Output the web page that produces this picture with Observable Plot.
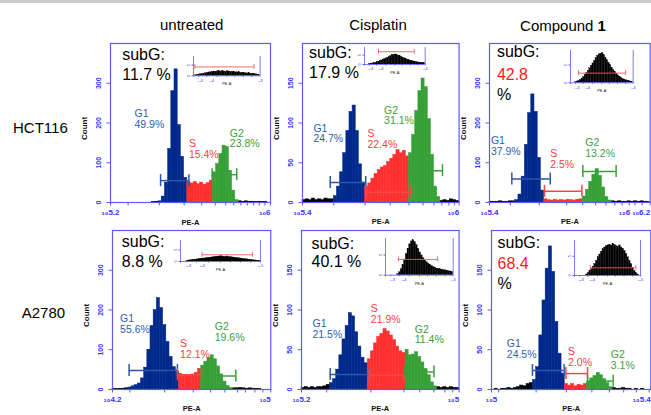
<!DOCTYPE html>
<html><head><meta charset="utf-8">
<script src="https://cdn.jsdelivr.net/npm/d3@7"></script>
<script src="https://cdn.jsdelivr.net/npm/@observablehq/plot@0.6"></script>
<style>
html,body{margin:0;padding:0;background:#fff;}
#root{position:relative;width:651px;height:415px;overflow:hidden;background:#fff;font-family:"Liberation Sans",Arial,sans-serif;}
#root svg{display:block;max-width:none;}
.abs{position:absolute;}
.lbl{position:absolute;white-space:nowrap;color:#000;line-height:1;}
</style></head>
<body><div id="root"></div>
<script>
// ---------------- DATA ----------------
const columns = ["untreated", "Cisplatin", "Compound 1"];
const cellLines = ["HCT116", "A2780"];
const subG  = [11.7, 17.9, 42.8, 8.8, 40.1, 68.4];
const pctG1 = [49.9, 24.7, 37.9, 55.6, 21.5, 24.5];
const pctS  = [15.4, 22.4, 2.5, 12.1, 21.9, 2.0];
const pctG2 = [23.8, 31.1, 13.2, 19.6, 11.4, 3.1];
const yMax  = [400, 200, 400, 400, 200, 200];
const yTicks = [[0,100,200,300],[0,50,100,150],[0,100,200,300],[0,100,200,300],[0,50,100,150],[0,50,100,150]];
const xTicks = [
  [0,11,30.5,46,57,65.5,72,77,81.5,85.5,89.5,93,96.5,100],
  [0,20,40,56,68,77,84,89,93.5,97,100],
  [0,13,31,48,58,66,72.5,78,82.5,87,90.5,95,100],
  [0,11,33,51,62,71,79,84,90,95,100],
  [0,16,44,65,75,84,91,96,100],
  [0,4.5,28,47,63,74,83,91,99]
];
const xTickLabels = [
  [["₁₀5.2",0],["₁₀6",100]],
  [["₁₀5.4",0],["₁₀6",100]],
  [["₁₀5.4",0],["₁₀6",84],["₁₀6.2",100]],
  [["₁₀4.2",0],["₁₀5",100]],
  [["₁₀5.2",0],["₁₀5",100]],
  [["₁₀5",0],["₁₀5.4",100]]
];
// histogram counts, 50 channels each (PE-A, 2 channel units per bin)
const histHCT116Untreated = [0,0,0,0,0,0,0,0,0,0, 0,0,0,1,2,3,15,50,135,280, 335,195,115,62,52,48,52,46,50,45, 49,55,76,97,122,143,140,80,30,6, 3,2,3,2,2,1,2,1,1,0];
const histHCT116Cisplatin = [3,4,3,5,3,4,3,5,4,4, 8,20,38,62,90,114,122,90,48,25, 20,24,30,36,41,44,46,51,55,60, 66,62,65,58,62,85,115,140,156,145, 105,60,20,7,2,3,2,4,3,2];
const histHCT116Compound  = [2,1,2,3,2,2,3,3,6,20, 65,145,225,272,228,112,30,8,6,5, 7,5,6,5,7,6,5,7,8,15, 32,52,70,84,67,38,14,5,3,2, 3,2,2,3,2,3,2,3,2,1];
const histA2780Untreated  = [1,1,2,2,3,5,8,11,15,28, 55,100,160,200,230,205,162,120,82,56, 45,40,37,35,36,38,42,52,60,70, 80,86,76,58,38,20,9,4,3,3, 4,3,2,3,2,2,1,0,0,0];
const histA2780Cisplatin  = [2,3,2,3,2,3,3,4,6,8, 13,25,43,63,80,96,92,72,54,40, 33,38,48,58,66,70,76,73,68,62, 54,48,46,50,43,44,47,41,34,26, 18,9,4,3,2,3,2,3,2,2];
const histA2780Compound   = [0,1,0,1,1,2,1,2,3,5, 4,7,8,12,28,68,112,152,180,148, 85,45,20,7,5,7,4,6,5,7, 10,14,17,21,18,13,8,3,2,1, 1,2,1,1,0,1,0,1,0,0];
const hists = [histHCT116Untreated, histHCT116Cisplatin, histHCT116Compound, histA2780Untreated, histA2780Cisplatin, histA2780Compound];
// phase edges (channel units): G1 start, S start, G2 start, G2 end
const phaseEdges = [[30,48,64,80],[20,40,68,88],[16,34,58,76],[10,42,56,76],[18,42,66,86],[26,46,60,76]];
// gates: [from, to, level(count)]
const gateG1 = [[31.3,49,55],[17.7,40.4,25],[13.9,37.8,59],[10.5,41,48],[18.2,42.9,19],[25.7,45.6,24]];
const gateS  = [null,[40.4,69.1,13],[34.2,57.5,28],[41,56.8,37],[42.9,65.1,18],[46.7,60.3,20]];
const gateG2 = [[63.5,78.9,70],[68,89.4,40],[58.1,78.8,78],[56.8,77.9,34],[65.1,84.1,22],[60.3,76.4,10.5]];
// insets: relative heights (% of inset height), 40 bins
const insetHCT116Untreated = [0,3,5,6,8,9,11,13,15,17,18,20,22,21,23,24,22,25,23,21,24,22,20,21,19,18,17,18,15,16,14,13,12,13,11,10,9,8,6,4];
const insetHCT116Cisplatin = [0,0,0,2,4,6,8,10,13,16,20,24,28,32,36,40,45,50,54,57,59,56,52,48,44,40,36,32,28,25,22,20,18,16,14,12,11,10,9,8];
const insetHCT116Compound  = [0,0,0,2,4,6,9,13,18,24,30,37,45,53,60,68,76,84,88,90,92,85,78,70,62,55,47,40,34,28,23,19,15,12,10,8,6,5,4,2];
const insetA2780Untreated  = [0,0,0,3,5,6,8,9,10,12,13,14,15,17,18,19,20,22,23,24,25,23,22,24,21,20,19,18,16,15,14,12,11,10,9,8,6,5,4,3];
const insetA2780Cisplatin  = [0,0,0,0,0,0,0,3,8,16,28,42,58,72,84,92,95,90,82,72,62,54,46,40,35,31,28,25,22,20,18,17,16,15,14,13,12,11,10,8];
const insetA2780Compound   = [0,0,0,0,0,0,0,3,7,12,18,25,33,42,52,60,68,75,80,84,86,88,85,90,87,84,82,86,80,76,70,62,52,42,32,22,13,7,3,0];
const insetHists = [insetHCT116Untreated, insetHCT116Cisplatin, insetHCT116Compound, insetA2780Untreated, insetA2780Cisplatin, insetA2780Compound];
const insetGates = [[2,91,46],[23,82,75],[13,88,30],[27,90,32],[19,77,43],[24,93,22]];
const insetXTicks = [0,8,20,35,50,62,75,88,100];
const insetXLabels = [["₁₀3",10],["₁₀4",27],["₁₀5",100]];
const insetYTicks = [[0,"0"],[55,"5"]];

// ---------------- LAYOUT ----------------
const layout = {
  frames: [[110,43,270,202],[301.7,43,458.3,202],[489.3,43,650,202],[111.7,230,270,389],[300.7,230,458.3,389],[490.7,230,650,389]],
  insets: [[192.7,56,259.3,75.3],[364.3,47.3,425,64.3],[570,50,632.7,82.3],[180,240,260,261],[385,238.3,452.7,275],[574,240,640,275]],
  labels: [
    [[15,210],[49,134],[74.6,161]],
    [[7,86.5],[41.5,79.6],[52.1,109]],
    [[0.9,142],[37.8,109],[59.6,137]],
    [[4.8,165],[42.7,102],[64.6,144]],
    [[7,76],[44,95],[71.9,69]],
    [[9.6,51],[48.1,41],[74.9,37]]
  ],
  subG: [[11.7,16.7,36],[6.6,15,35],[7.4,14,36.7,56.7],[9.3,17,37],[10,18.3,36.7],[6,17.3,38.3,58.3]],
  colTitles: [[191.7,30],[378,30],[563,30.7]],
  rowTitles: [[13,132.3],[21.7,317.3]]
};

const BW = 2;
const BAR = {k:"#000000", g1:"#00298c", s:"#ff3030", g2:"#36a036"};
const GATE = {g1:"#2b55a8", s:"#ff4545", g2:"#3aa03a"};
const LAB = {g1:"#2f5db0", s:"#ff4040", g2:"#3c9e3c"};
const AX = "#5a5aff";
const TICK = "#3535ff";
const FONT = "'Liberation Sans', Arial, sans-serif";
const root = document.getElementById("root");

function place(el, left, top) {
  const d = document.createElement("div");
  d.className = "abs";
  d.style.left = left + "px"; d.style.top = top + "px";
  d.appendChild(el); root.appendChild(d);
}

function makePanel(i) {
  const [L,T,R,B] = layout.frames[i];
  const W = R - L, H = B - T;
  const mL = 36, mR = 3, mT = 2, mB = 30;
  const e = phaseEdges[i];
  const bins = hists[i].map((v,j) => ({x1: j*BW, x2: (j+1)*BW, v}));
  const phase = b => b.x1 < e[0] ? "k" : b.x1 < e[1] ? "g1" : b.x1 < e[2] ? "s" : b.x1 < e[3] ? "g2" : "k";
  const capH = 6 * yMax[i] / H;
  const gates = [["g1",gateG1[i]],["s",gateS[i]],["g2",gateG2[i]]].filter(d => d[1])
    .map(([k,g]) => ({k, x1:g[0], x2:g[1], y:g[2]}));
  const caps = gates.flatMap(g => [{k:g.k, x:g.x1, y:g.y}, {k:g.k, x:g.x2, y:g.y}]);
  const lp = layout.labels[i];
  const labels = [
    {k:"g1", x:lp[0][0], y:lp[0][1], t:"G1\n" + pctG1[i].toFixed(1) + "%"},
    {k:"s",  x:lp[1][0], y:lp[1][1], t:"S\n"  + pctS[i].toFixed(1) + "%"},
    {k:"g2", x:lp[2][0], y:lp[2][1], t:"G2\n" + pctG2[i].toFixed(1) + "%"}
  ];
  const marks = [];
  for (const k of ["k","g1","s","g2"]) {
    marks.push(Plot.rect(bins.filter(b => phase(b) === k),
      {x1:"x1", x2:"x2", y1:0, y2:"v", fill:BAR[k], stroke:BAR[k], strokeWidth:0.5}));
  }
  marks.push(Plot.ruleY(gates, {x1:"x1", x2:"x2", y:"y", stroke:d => GATE[d.k], strokeWidth:1.5}));
  marks.push(Plot.ruleX(caps, {x:"x", y1:d => d.y - capH, y2:d => d.y + capH, stroke:d => GATE[d.k], strokeWidth:1.5}));
  marks.push(Plot.text(labels, {x:"x", y:"y", text:"t", fill:d => LAB[d.k], fontSize:10.5,
    textAnchor:"start", lineAnchor:"middle", lineHeight:1.0}));
  marks.push(Plot.frame({stroke:AX, strokeWidth:1.2}));
  marks.push(Plot.axisY(yTicks[i], {tickSize:3.5, tickFormat:() => "", label:null, stroke:AX}));
  marks.push(Plot.axisX(xTicks[i], {tickSize:3.5, tickFormat:() => "", label:null, stroke:AX}));
  marks.push(Plot.text(yTicks[i], {x:0, y:d => d, text:d => String(d), dx:-12, rotate:-90,
    fill:TICK, fontSize:7, fontWeight:"bold"}));
  const xl = xTickLabels[i];
  marks.push(Plot.text(xl.filter(d => d[1] < 99), {x:d => d[1], y:0, text:d => d[0], dy:10, fill:TICK, fontSize:8, fontWeight:"bold"}));
  marks.push(Plot.text(xl.filter(d => d[1] >= 99), {x:d => d[1], y:0, text:d => d[0], dy:10, textAnchor:"end", fill:TICK, fontSize:8, fontWeight:"bold"}));
  marks.push(Plot.text(["Count"], {frameAnchor:"left", dx:-26, dy:17, rotate:-90, fontWeight:"bold", fontSize:8, fill:"#111"}));
  marks.push(Plot.text(["PE-A"], {frameAnchor:"bottom", dy:22, fontWeight:"bold", fontSize:7.5, fill:"#111"}));
  const sp = layout.subG[i];
  const isCmp = (i % 3) === 2;
  const lines = isCmp
    ? [["subG:", sp[1], "#000"], [subG[i].toFixed(1), sp[2], "#ff1a1a"], ["%", sp[3], "#000"]]
    : [["subG:", sp[1], "#000"], [subG[i].toFixed(1) + " %", sp[2], "#000"]];
  for (const [t,b,c] of lines) {
    marks.push(Plot.text([t], {frameAnchor:"top-left", dx:sp[0], dy:b, lineAnchor:"bottom",
      textAnchor:"start", fill:c, fontSize:16}));
  }
  const svg = Plot.plot({
    width: W + mL + mR, height: H + mT + mB,
    marginLeft: mL, marginRight: mR, marginTop: mT, marginBottom: mB,
    x: {domain:[0,100]}, y: {domain:[0, yMax[i]]}, color: {type:"identity"},
    style: {fontFamily: FONT, background: "transparent", overflow: "visible"},
    marks
  });
  place(svg, L - mL, T - mT);
}

function makeInset(i) {
  const [L,T,R,B] = layout.insets[i];
  const W = R - L, H = B - T;
  const mL = 8, mR = 2, mT = 1, mB = 12;
  const n = insetHists[i].length, bw = 100 / n;
  const bins = insetHists[i].map((v,j) => ({x1: j*bw, x2: (j+1)*bw, v}));
  const g = insetGates[i];
  const capH = 2.5 * 100 / H;
  const svg = Plot.plot({
    width: W + mL + mR, height: H + mT + mB,
    marginLeft: mL, marginRight: mR, marginTop: mT, marginBottom: mB,
    x: {domain:[0,100]}, y: {domain:[0,100]},
    style: {fontFamily: FONT, background: "transparent", overflow: "visible"},
    marks: [
      Plot.rect(bins, {x1:"x1", x2:"x2", y1:0, y2:"v", fill:"#000", stroke:"#000", strokeWidth:0.3}),
      Plot.ruleX([0,100], {stroke:AX, strokeWidth:0.8}),
      Plot.ruleY([0], {stroke:AX, strokeWidth:0.8}),
      Plot.ruleY([g], {x1:d => d[0], x2:d => d[1], y:d => d[2], stroke:"#f05a5a", strokeWidth:0.9}),
      Plot.ruleX([g[0], g[1]], {x:d => d, y1:g[2] - capH, y2:g[2] + capH, stroke:"#f05a5a", strokeWidth:0.9}),
      Plot.axisX(insetXTicks, {tickSize:1.5, tickFormat:() => "", label:null, stroke:AX}),
      Plot.axisY(insetYTicks.map(d => d[0]), {tickSize:1.5, tickFormat:() => "", label:null, stroke:AX}),
      Plot.text(insetYTicks, {x:0, y:d => d[0], text:d => d[1], dx:-4.5, rotate:-90, fill:TICK, fontSize:4}),
      Plot.text(insetXLabels, {x:d => d[1], y:0, text:d => d[0], dy:4.5, fill:TICK, fontSize:4}),
      Plot.text(["PE-A"], {frameAnchor:"bottom", dy:9.5, fontSize:4, fill:"#222"})
    ]
  });
  place(svg, L - mL, T - mT);
}

function addText(html, x, baseline, size, anchor) {
  const d = document.createElement("div");
  d.className = "lbl";
  d.style.fontSize = size + "px";
  d.style.top = (baseline - 0.8465 * size) + "px";
  d.style.left = x + "px";
  if (anchor === "middle") d.style.transform = "translateX(-50%)";
  d.innerHTML = html;
  root.appendChild(d);
}

// top grey rule
const bar = document.createElement("div");
bar.className = "abs";
Object.assign(bar.style, {left:"0px", top:"0px", width:"651px", height:"3px", background:"#cbcbcb"});
root.appendChild(bar);

for (let i = 0; i < 6; i++) makePanel(i);
for (let i = 0; i < 6; i++) makeInset(i);

columns.forEach((c, j) => {
  const html = c.replace(/ (\d+)$/, " <b>$1</b>");
  addText(html, layout.colTitles[j][0], layout.colTitles[j][1], 15, "middle");
});
cellLines.forEach((c, j) => addText(c, layout.rowTitles[j][0], layout.rowTitles[j][1], 15, "start"));
</script>
</body></html>
